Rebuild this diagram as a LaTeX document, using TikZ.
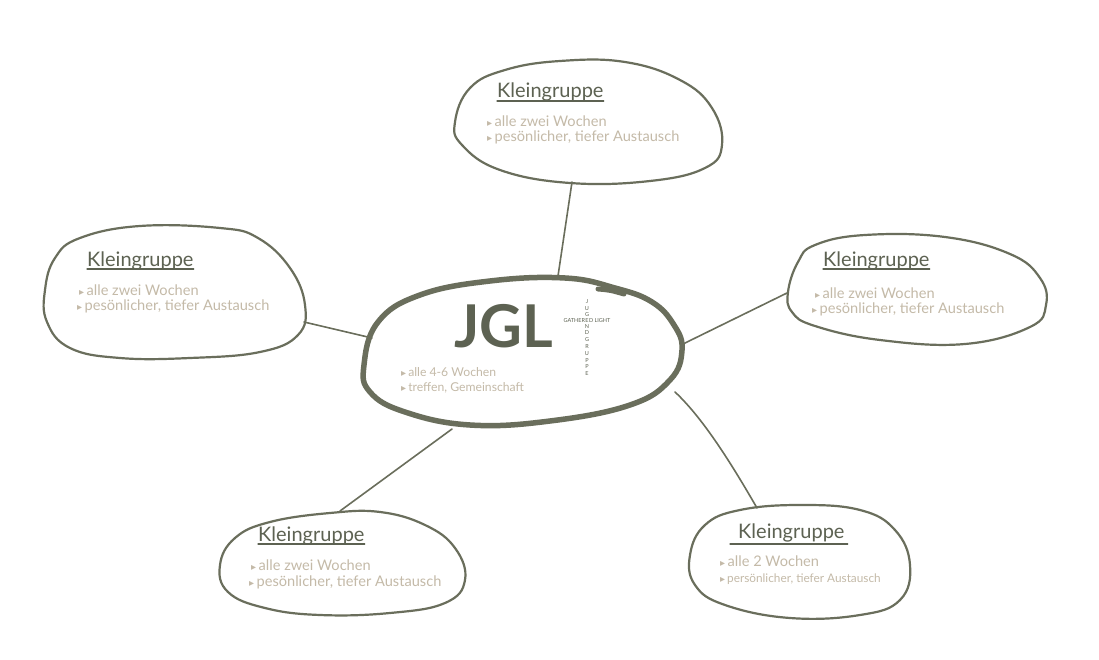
\documentclass[tikz,border=0pt]{standalone}
\usepackage{fontspec}
\setmainfont{Lato}
\newfontfamily\symf{DejaVu Sans}
\definecolor{outl}{HTML}{6A6E5C}
\definecolor{headc}{HTML}{5D6252}
\definecolor{itemc}{HTML}{C4BAA8}
\newcommand\bul{{\symf\fontsize{10}{10}\selectfont ▸}\,}
\begin{document}
\begin{tikzpicture}[x=1pt,y=-1pt,
  blob/.style={draw=outl, line width=2.2pt, line join=round},
  hub/.style={draw=outl, line width=5.5pt, line join=round},
  conn/.style={draw=outl, line width=1.6pt, line cap=round},
  head/.style={font=\fontsize{20}{23}\selectfont, text=headc, inner sep=0pt, anchor=base west},
  item/.style={font=\fontsize{14.6}{17}\selectfont, text=itemc, inner sep=0pt, anchor=base west},
  smallitem/.style={font=\fontsize{12.2}{14}\selectfont, text=itemc, inner sep=0pt, anchor=base west},
  ul/.style={draw=headc, line width=1.3pt, line cap=round},
  cross/.style={font=\fontsize{5.5}{6.8}\selectfont, text=headc, inner sep=0pt, align=center}
]
\useasboundingbox[fill=white] (0,0) rectangle (1099,660);

% ---- bubbles ----
% top
\draw[blob] plot[smooth cycle, tension=0.7] coordinates {(455,122) (470,88) (505,70) (560,61) (625,62) (680,80) (712,108) (722,145) (705,168) (650,181) (570,183) (500,170) (462,145)};
% left
\draw[blob] plot[smooth cycle, tension=0.7] coordinates {(45,290) (55,258) (80,238) (140,226) (220,228) (258,238) (290,268) (305,305) (298,335) (260,352) (190,358) (120,358) (70,348) (47,322)};
% right
\draw[blob] plot[smooth cycle, tension=0.7] coordinates {(788,292) (798,262) (815,245) (865,235) (945,237) (1010,254) (1040,278) (1046,305) (1030,327) (965,344) (880,340) (815,326) (792,312)};
% bottom left
\draw[blob] plot[smooth cycle, tension=0.7] coordinates {(220,565) (235,538) (270,522) (330,513) (380,512) (425,525) (455,548) (465,580) (445,603) (390,613) (320,615) (265,608) (228,592)};
% bottom right
\draw[blob] plot[smooth cycle, tension=0.7] coordinates {(690,555) (705,525) (740,510) (800,505) (860,510) (895,530) (910,565) (900,600) (860,615) (790,618) (725,605) (695,585)};
% centre
\draw[hub] plot[smooth cycle, tension=0.7] coordinates {(364,365) (378,322) (420,295) (490,281) (565,278) (615,288) (652,302) (674,325) (682,350) (670,380) (630,405) (550,421) (470,425) (405,412) (370,392)};
\draw[hub, line cap=round, line width=5pt] (598,289) .. controls (610,290) .. (624,294);

% ---- connector ends ----
\coordinate (topE) at (572,182);
\coordinate (cTop) at (558,276);
\coordinate (leftE) at (304,322);
\coordinate (cLeft) at (372,338);
\coordinate (rightE) at (787,293);
\coordinate (cRight) at (683,344);
\coordinate (blE) at (340,511);
\coordinate (cBL) at (452,429);
\coordinate (brE) at (757,508);
\coordinate (cBR) at (675,392);

\draw[conn] (topE) -- (cTop);
\draw[conn] (leftE) -- (cLeft);
\draw[conn] (rightE) -- (cRight);
\draw[conn] (blE) -- (cBL);
\draw[conn] (brE) .. controls (735,470) and (705,420) .. (cBR);

% ---- centre texts ----
\node[font=\bfseries\fontsize{59}{59}\selectfont, text=headc, inner sep=0pt, anchor=base west] (jgl) at (454,347) {JGL};
\node[smallitem] (c1) at (401,376) {\bul alle 4-6 Wochen};
\node[smallitem] (c2) at (401,391) {\bul treffen, Gemeinschaft};
\coordinate (crossE) at (587,320.5);
\node[cross, anchor=center] (xe) at (crossE) {E};
\node[cross, anchor=east] (xw) at ([xshift=-1.8pt]crossE) {GATHER};
\node[cross, anchor=west] (xr) at ([xshift=1.8pt]crossE) {D LIGHT};
\node[cross, anchor=south] (xt) at ([yshift=3.4pt]crossE) {J\\U\\G};
\node[cross, anchor=north] (xb) at ([yshift=-3.4pt]crossE) {N\\D\\G\\R\\U\\P\\P\\E};

% ---- top ----
\node[head] (k1) at (497,98) {Kleingruppe};
\draw[ul] ([yshift=-3pt]k1.base west) -- ([yshift=-3pt]k1.base east);
\node[item] (a1) at (487,127) {\bul alle zwei Wochen};
\node[item] (b1) at (487,142) {\bul pesönlicher, tiefer Austausch};

% ---- left ----
\node[head] (k2) at (87,266) {Kleingruppe};
\draw[ul] ([yshift=-3pt]k2.base west) -- ([yshift=-3pt]k2.base east);
\node[item] (a2) at (79,295) {\bul alle zwei Wochen};
\node[item] (b2) at (77,310) {\bul pesönlicher, tiefer Austausch};

% ---- right ----
\node[head] (k3) at (823,266) {Kleingruppe};
\draw[ul] ([yshift=-3pt]k3.base west) -- ([yshift=-3pt]k3.base east);
\node[item] (a3) at (815,298) {\bul alle zwei Wochen};
\node[item] (b3) at (812,313) {\bul pesönlicher, tiefer Austausch};

% ---- bottom left ----
\node[head] (k4) at (258,541) {Kleingruppe};
\draw[ul] ([yshift=-3pt]k4.base west) -- ([yshift=-3pt]k4.base east);
\node[item] (a4) at (251,570) {\bul alle zwei Wochen};
\node[item] (b4) at (249,586) {\bul pesönlicher, tiefer Austausch};

% ---- bottom right ----
\node[head] (k5) at (738,538) {Kleingruppe};
\draw[ul] ([xshift=-8pt,yshift=-6pt]k5.base west) -- ([xshift=3pt,yshift=-6pt]k5.base east);
\node[item] (a5) at (720,566) {\bul alle 2 Wochen};
\node[smallitem, font=\fontsize{11.8}{14}\selectfont] (b5) at (720,582) {\bul persönlicher, tiefer Austausch};
\end{tikzpicture}
\end{document}
